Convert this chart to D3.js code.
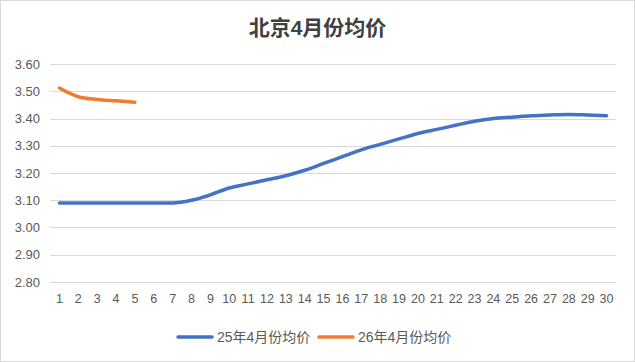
<!DOCTYPE html>
<html>
<head>
<meta charset="utf-8">
<script src="https://cdn.jsdelivr.net/npm/d3@7"></script>
<style>
  html, body { margin: 0; padding: 0; background: #fff; }
  svg { display: block; font-family: "Liberation Sans", "Noto Sans CJK SC", sans-serif; }
</style>
</head>
<body>
<div id="chart"></div>
<script>
const days = d3.range(1, 31);
const seriesNames = ["25年4月份均价", "26年4月份均价"];
const price25 = [3.09, 3.09, 3.09, 3.09, 3.09, 3.09, 3.09, 3.10, 3.12, 3.145,
                 3.16, 3.175, 3.19, 3.21, 3.235, 3.26, 3.285, 3.305, 3.325, 3.345,
                 3.36, 3.375, 3.39, 3.40, 3.405, 3.41, 3.413, 3.415, 3.413, 3.41];
const price26 = [3.512, 3.48, 3.47, 3.465, 3.46];
const yTicks = [2.8, 2.9, 3.0, 3.1, 3.2, 3.3, 3.4, 3.5, 3.6];
const colors = ["#4472C4", "#ED7D31"];

const width = 635, height = 362;
const margin = { top: 64, right: 19, bottom: 80, left: 50 };

const svg = d3.select("#chart").append("svg")
    .attr("width", width)
    .attr("height", height);

// outer frame
svg.append("rect")
    .attr("x", 0.5).attr("y", 0.5)
    .attr("width", width - 1).attr("height", height - 1)
    .attr("fill", "#fff")
    .attr("stroke", "#d9d9d9");

const x = d3.scaleBand()
    .domain(days)
    .range([margin.left, width - margin.right]);

const y = d3.scaleLinear()
    .domain([2.8, 3.6])
    .range([height - margin.bottom, margin.top]);

// gridlines
svg.append("g")
    .selectAll("line")
    .data(yTicks)
    .join("line")
    .attr("x1", margin.left)
    .attr("x2", width - margin.right)
    .attr("y1", d => Math.round(y(d)) + 0.5)
    .attr("y2", d => Math.round(y(d)) + 0.5)
    .attr("stroke", "#d9d9d9");

// y axis labels
const yAxis = svg.append("g")
    .attr("transform", `translate(${margin.left - 10},0)`)
    .call(d3.axisLeft(y).tickValues(yTicks).tickFormat(d3.format(".2f")).tickSize(0).tickPadding(0));
yAxis.select(".domain").remove();
yAxis.selectAll("text")
    .attr("fill", "#595959")
    .style("font-size", "13px");

// x axis labels
const xAxis = svg.append("g")
    .attr("transform", `translate(0,${height - margin.bottom + 10})`)
    .call(d3.axisBottom(x).tickSize(0).tickPadding(0));
xAxis.select(".domain").remove();
xAxis.selectAll("text")
    .attr("fill", "#595959")
    .attr("dy", "0.9em")
    .style("font-size", "12.5px");

const cx = d => x(d) + x.bandwidth() / 2;

const line = d3.line()
    .x((d, i) => cx(days[i]))
    .y(d => y(d))
    .curve(d3.curveMonotoneX);

[price25, price26].forEach((vals, k) => {
    svg.append("path")
        .datum(vals)
        .attr("fill", "none")
        .attr("stroke", colors[k])
        .attr("stroke-width", 3.5)
        .attr("stroke-linecap", "round")
        .attr("stroke-linejoin", "round")
        .attr("d", line);
});

// title
svg.append("text")
    .attr("x", width / 2)
    .attr("y", 35)
    .attr("text-anchor", "middle")
    .attr("fill", "#404040")
    .style("font-size", "21px")
    .style("font-weight", "bold")
    .text("北京4月份均价");

// legend
const legend = svg.append("g").attr("transform", "translate(0,337)");
const legendX = [178, 319];
seriesNames.forEach((name, k) => {
    const g = legend.append("g").attr("transform", `translate(${legendX[k]},0)`);
    g.append("line")
        .attr("x1", 0).attr("x2", 34)
        .attr("stroke", colors[k])
        .attr("stroke-width", 3.5)
        .attr("stroke-linecap", "round");
    g.append("text")
        .attr("x", 39)
        .attr("dy", "0.35em")
        .attr("fill", "#595959")
        .style("font-size", "14px")
        .text(name);
});
</script>
</body>
</html>
